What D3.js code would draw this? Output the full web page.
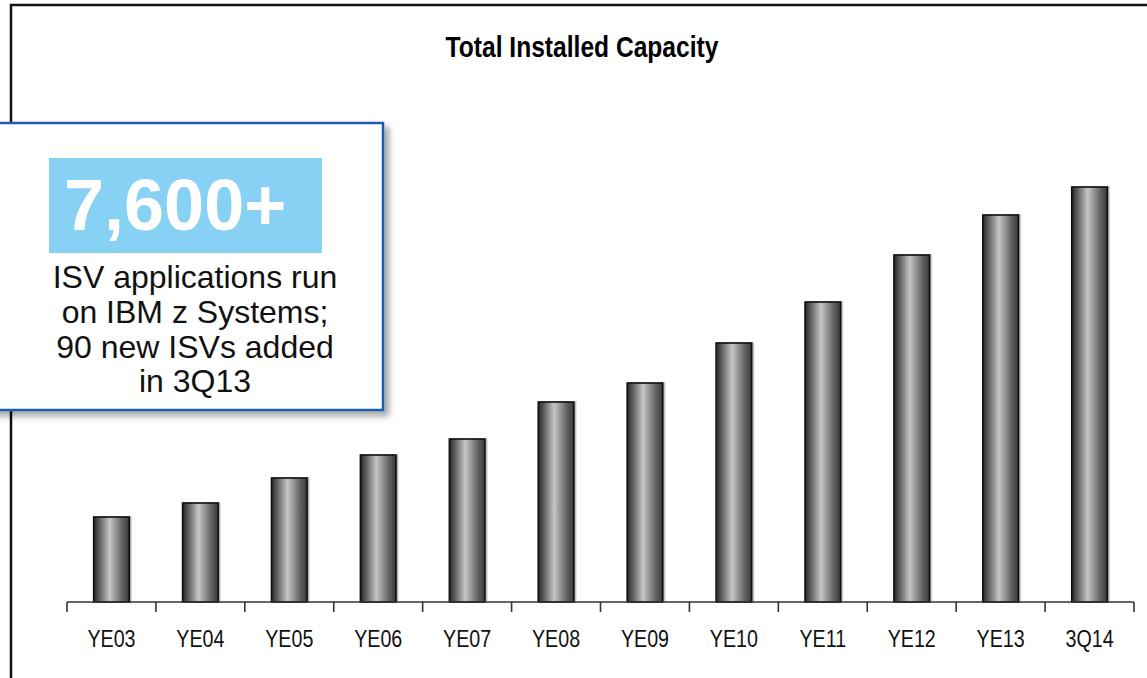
<!DOCTYPE html>
<html>
<head>
<meta charset="utf-8">
<script src="https://cdn.jsdelivr.net/npm/d3@7"></script>
<style>
  body { margin: 0; background: #fff; }
  svg { display: block; font-family: "Liberation Sans", Arial, sans-serif; }
</style>
</head>
<body>
<div id="chart"></div>
<script>
// chart data
const categories = ["YE03", "YE04", "YE05", "YE06", "YE07", "YE08", "YE09", "YE10", "YE11", "YE12", "YE13", "3Q14"];
const capacity = [85, 99, 124, 147, 163, 200, 219, 259, 300, 347, 387, 415];
const calloutLines = ["ISV applications run", "on IBM z Systems;", "90 new ISVs added", "in 3Q13"];

const width = 1147, height = 678;

const svg = d3.select("#chart").append("svg")
    .attr("width", width)
    .attr("height", height);

const defs = svg.append("defs");

// cylinder look for bars
const grad = defs.append("linearGradient")
    .attr("id", "barGrad")
    .attr("x1", "0%").attr("x2", "100%")
    .attr("y1", "0%").attr("y2", "0%");
[[0, "#262626"], [18, "#666"], [45, "#c6c6c6"], [55, "#a9a9a9"], [80, "#636363"], [100, "#3a3a3a"]]
    .forEach(s => grad.append("stop").attr("offset", s[0] + "%").attr("stop-color", s[1]));

const shadow = defs.append("filter").attr("id", "boxShadow")
    .attr("x", "-10%").attr("y", "-10%").attr("width", "130%").attr("height", "130%");
shadow.append("feDropShadow")
    .attr("dx", 5).attr("dy", 5).attr("stdDeviation", 3)
    .attr("flood-color", "#000").attr("flood-opacity", 0.35);

const barShadow = defs.append("filter").attr("id", "barShadow")
    .attr("x", "-20%").attr("y", "-5%").attr("width", "140%").attr("height", "110%");
barShadow.append("feDropShadow")
    .attr("dx", 1.5).attr("dy", 0).attr("stdDeviation", 0.6)
    .attr("flood-color", "#000").attr("flood-opacity", 0.3);

// outer frame
svg.append("path")
    .attr("d", `M11,${height + 5} V5 H${width + 5}`)
    .attr("fill", "none")
    .attr("stroke", "#111")
    .attr("stroke-width", 2.5);

// title
svg.append("text")
    .attr("transform", "translate(582,57) scale(0.82,1)")
    .attr("text-anchor", "middle")
    .style("font-size", "30px")
    .style("font-weight", "bold")
    .text("Total Installed Capacity");

// scales
const baseY = 602;
const x = d3.scaleBand()
    .domain(categories)
    .range([67, 1134])
    .paddingInner(0.6)
    .paddingOuter(0.3);

const y = d3.scaleLinear()
    .domain([0, 415])
    .range([baseY, baseY - 415]);

// bars
svg.append("g")
    .selectAll("rect")
    .data(categories)
    .join("rect")
    .attr("x", d => x(d))
    .attr("y", (d, i) => y(capacity[i]))
    .attr("width", x.bandwidth())
    .attr("height", (d, i) => baseY - y(capacity[i]))
    .attr("fill", "url(#barGrad)")
    .attr("stroke", "#111")
    .attr("stroke-width", 1.6)
    .attr("filter", "url(#barShadow)");

// x axis labels
const xAxis = svg.append("g")
    .attr("transform", `translate(0,${baseY})`)
    .call(d3.axisBottom(x).tickSize(0).tickPadding(28));
xAxis.select(".domain").remove();
xAxis.selectAll("text")
    .attr("transform", "scale(0.82,1)")
    .style("font-size", "24px")
    .style("font-family", "'Liberation Sans', Arial, sans-serif")
    .attr("fill", "#111");

// axis line with ticks at band boundaries
svg.append("line")
    .attr("x1", x.range()[0]).attr("x2", x.range()[1])
    .attr("y1", baseY).attr("y2", baseY)
    .attr("stroke", "#333").attr("stroke-width", 1.6);

svg.append("g")
    .selectAll("line")
    .data(d3.range(categories.length + 1))
    .join("line")
    .attr("x1", i => x.range()[0] + i * x.step())
    .attr("x2", i => x.range()[0] + i * x.step())
    .attr("y1", baseY)
    .attr("y2", baseY + 10)
    .attr("stroke", "#333")
    .attr("stroke-width", 1.6);

// callout box
const callout = svg.append("g");
callout.append("rect")
    .attr("x", -10).attr("y", 123)
    .attr("width", 393).attr("height", 287)
    .attr("fill", "#fff")
    .attr("stroke", "#1f5cae")
    .attr("stroke-width", 2.5)
    .attr("filter", "url(#boxShadow)");

callout.append("rect")
    .attr("x", 49).attr("y", 158)
    .attr("width", 273).attr("height", 95)
    .attr("fill", "#87d1f4");

callout.append("text")
    .attr("x", 64).attr("y", 230)
    .attr("fill", "#fff")
    .style("font-size", "72px")
    .style("font-weight", "bold")
    .text("7,600+");

callout.selectAll("text.line")
    .data(calloutLines)
    .join("text")
    .attr("class", "line")
    .attr("x", 195)
    .attr("y", (d, i) => 288 + i * 34.8)
    .attr("text-anchor", "middle")
    .attr("fill", "#111")
    .style("font-size", "32px")
    .text(d => d);
</script>
</body>
</html>
